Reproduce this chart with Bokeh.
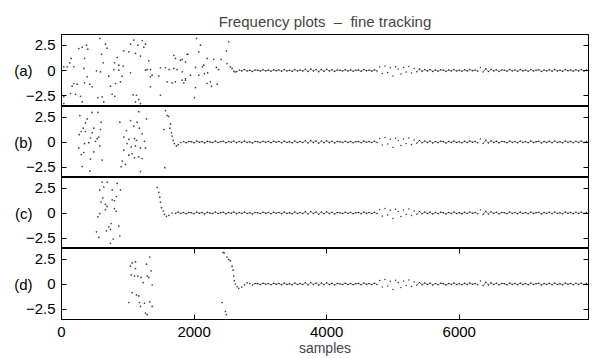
from bokeh.plotting import figure
from bokeh.layouts import column
from bokeh.models import FixedTicker, LinearAxis, Range1d
from bokeh.embed import file_html
from bokeh.resources import INLINE

TITLE = "Frequency plots\u00a0\u00a0\u2013\u00a0\u00a0fine tracking"
PANEL_LABELS = ["(a)", "(b)", "(c)", "(d)"]
Y_TICKS = [-2.5, 0, 2.5]
Y_TICK_LABELS = {-2.5: "\u22122.5", 0: "0", 2.5: "2.5"}
X_TICKS = [0, 2000, 4000, 6000]
X_LABEL = "samples"

# early (acquisition) samples
a_x = [35, 35, 35, 86, 126, 136, 146, 161, 186, 186, 211, 236, 262, 287, 312, 312, 337, 347, 347, 377,
       387, 397, 428, 463, 528, 548, 578, 588, 603, 613, 628, 638, 663, 688, 713, 739, 764, 789, 799, 804,
       814, 840, 865, 865, 890, 915, 930, 940, 1016, 1041, 1041, 1081, 1091, 1116, 1116, 1131, 1151, 1166, 1191, 1191,
       1217, 1242, 1267, 1267, 1292, 1317, 1342, 1342, 1342, 1367, 1468, 1493, 1493, 1568, 1593, 1623, 1669, 1694, 1694, 1719,
       1719, 1744, 1795, 1820, 1820, 1820, 1845, 1870, 1870, 1870, 1895, 1905, 1945, 2006, 2021, 2021, 2036, 2071, 2071, 2096,
       2126, 2146, 2156, 2197, 2197, 2204, 2247, 2262, 2297, 2337, 2348, 2372, 2408, 2488, 2498, 2523, 2548, 2573, 2598, 2620,
       2645]
a_y = [0.36, -2.6, -3.26, 0.36, 0.76, -2.27, 1.19, -1.55, 0.36, -1.28, -2.34, -1.35, 2.17, -2.54, 2.3, -3.1, 0.2, 1.19, -1.22, 2.5,
       -0.62, 2.1, -1.35, -1.61, -0.03, -2.67, 3.16, -0.13, 1.6, -2.6, 0.76, -3.1, 2.6, 2.2, -0.56, -1.55, -2.34, 0.09, 0.76, -2.54,
       -1.28, 1.28, 0.53, 0.03, -1.12, -0.56, 0.43, 1.94, 1.84, 2.6, -0.23, -2.4, 3.0, 1.68, -3.1, -2.44, 2.5, -2.86, 1.42, -3.26,
       2.96, 2.3, 2.6, 0.03, 0.09, 0.95, 0.09, -0.62, -1.61, -0.46, -0.55, 0.27, -2.44, 0.27, -1.12, 0.09, -1.22, 1.5, 0.2, 1.19,
       -1.12, 0.09, 1.02, -0.13, -0.95, 1.1, -1.22, -0.95, 0.86, -0.79, 1.6, 1.6, -0.46, -2.67, 0.3, -1.68, 3.16, 1.84, -0.46, 2.5,
       0.36, 0.53, -0.3, 1.19, -1.28, -0.23, -1.12, -1.55, 1.1, 0.3, -1.35, 0.09, 1.1, 1.94, 0.69, 2.83, 0.36, 0.2, -0.05, -0.14,
       -0.1]

b_x = [261, 266, 277, 297, 297, 312, 327, 337, 347, 362, 362, 387, 412, 428, 437, 437, 462, 463, 488, 488,
       513, 538, 548, 563, 578, 588, 598, 613,
       880, 900, 915, 940, 940, 965, 980, 990, 1016, 1016, 1041, 1051, 1066, 1091, 1101, 1101, 1116, 1131, 1141, 1166,
       1166, 1176, 1191, 1191, 1217, 1217, 1252, 1267, 1282,
       1543, 1558, 1568, 1594, 1619, 1634, 1644, 1659, 1669, 1684, 1704, 1734, 1760, 1800]
b_y = [-0.59, 0.73, 2.64, 1.05, -1.25, -2.46, 1.38, -1.05, -0.16, 1.91, 1.05, 2.31, -0.07, -2.89, 0.4, -1.71, 0.92, 2.96, 1.38, -0.99,
       0.07, 0.33, 2.96, 0.49, -0.39, 1.25, 1.98, -1.81,
       1.98, -2.47, -1.91, 0.49, -0.82, -2.24, 1.15, -0.16, 0.26, -1.32, 2.14, -0.49, -1.15, 1.58, 0.33, -1.58, -0.39, 0.17, 1.98, 3.03,
       -1.48, 1.38, -0.59, -2.96, 0.82, -1.65, 0.07, -0.59, 2.31,
       1.25, -2.57, 3.13, 2.64, 2.57, 1.38, 1.81, 0.92, 0.59, 0.17, -0.16, -0.39, -0.26, -0.05]

c_x = [528, 548, 563, 578, 578, 598, 614, 623, 638, 663, 663, 678, 688, 689, 714, 739, 739, 749, 765, 765,
       779, 799, 799, 824, 829, 840, 864, 880, 890,
       1443, 1468, 1483, 1493, 1508, 1533, 1553, 1583, 1619, 1669]
c_y = [-1.88, -0.39, -2.44, 2.31, -0.07, 1.09, 3.09, 1.51, 2.6, 0.86, 0.33, -1.78, 0.66, 3.09, -1.38, -1.65, -3.03, -1.05, 2.31, 1.32,
       -2.6, 1.25, 0.43, 0.17, 1.65, 2.96, -1.32, -2.3, 2.31,
       2.57, 2.07, 1.58, 1.09, 0.53, 0.2, -0.13, -0.33, -0.23, 0.0]

d_x = [1016, 1041, 1051, 1066, 1066, 1101, 1116, 1116, 1131, 1151, 1166, 1176, 1191, 1202, 1232, 1252, 1267, 1282, 1292, 1292,
       1317, 1332, 1332, 1352, 1368, 1368,
       2423, 2438, 2458, 2473, 2488, 2498, 2523, 2548, 2573, 2588, 2598, 2608, 2624, 2649, 2674, 2720, 2760, 2800, 2840]
d_y = [-1.85, 1.78, 0.89, 2.11, -0.86, 0.79, 2.21, 1.55, -1.09, 0.79, -1.19, -1.85, -2.24, 0.66, 0.13, -1.91, -2.9, 1.98, 0.79, -3.07,
       0.66, 2.7, -1.78, 1.32, -0.1, -2.24,
       -1.85, 3.16, 3.1, -2.73, -3.07, 2.7, 2.44, 2.31, 1.78, 1.38, 0.79, 0.33, 0.0, -0.26, -0.43, -0.3, -0.08, 0.12, 0.05]

# converged (tracking) part, common to all panels: one value every 40 samples from 1680
TAIL_START = 1680
TAIL_STEP = 40
tail_y = [0.08, -0.06, 0.1, -0.04, 0.05, -0.08, 0.06, 0.02, -0.07, 0.09,
          -0.03, 0.05, -0.09, 0.07, 0.0, -0.05, 0.1, -0.06, 0.03, 0.08,
          -0.08, 0.04, -0.02, 0.09, -0.07, 0.05, -0.04, 0.1, -0.05, 0.02,
          -0.09, 0.06, 0.03, -0.06, 0.08, -0.03, 0.05, -0.08, 0.07, -0.02,
          0.06, -0.07, 0.09, -0.04, 0.02, -0.08, 0.1, -0.05, 0.04, -0.06,
          0.12, -0.1, 0.14, -0.06, 0.11, -0.12, 0.09, -0.08, 0.13, -0.05,
          0.07, -0.09, 0.05, 0.02, -0.06, 0.08, -0.04, 0.06, -0.07, 0.03,
          0.05, -0.08, 0.09, -0.03, 0.04, -0.06, 0.07, -0.05, 0.35, -0.3,
          0.45, -0.2, 0.28, -0.55, 0.38, 0.15, -0.35, 0.3, -0.15, 0.4,
          -0.25, 0.2, -0.12, 0.15, -0.08, 0.1, -0.06, 0.09, -0.1, 0.05,
          -0.07, 0.08, 0.02, -0.09, 0.06, -0.04, 0.1, -0.06, 0.03, -0.08,
          0.07, -0.05, 0.09, -0.03, 0.05, -0.07, 0.3, -0.15, 0.18, -0.1,
          0.12, -0.06, 0.08, -0.09, 0.05, 0.03, -0.07, 0.1, -0.04, 0.06,
          -0.08, 0.09, -0.05, 0.04, -0.07, 0.1, -0.06, 0.03, 0.07, -0.09,
          0.05, -0.04, 0.08, -0.07, 0.1, -0.05, 0.02, -0.08, 0.09, -0.03,
          0.06, -0.08, 0.07, -0.05, 0.09, -0.06, 0.04]
tail_x = [TAIL_START + TAIL_STEP * i for i in range(len(tail_y))]
TAIL_FROM = [2680, 1840, 1720, 2880]

FONT = "Liberation Sans"
x_range = Range1d(0, 7950)


def tick_only_axis(ticks):
    return LinearAxis(ticker=FixedTicker(ticks=ticks), major_tick_in=5, major_tick_out=0,
                      minor_tick_line_color=None,
                      major_label_overrides={t: "" for t in ticks},
                      major_label_text_font_size="1px",
                      major_label_standoff=0, axis_line_color="black")


def make_panel(xs, ys, tail_from, label, height, top, bottom, last):
    p = figure(width=593, height=height, x_range=x_range, y_range=Range1d(-3.55, 3.55),
               output_backend="svg", toolbar_location=None,
               x_axis_location="below" if last else None,
               min_border_left=61, min_border_right=5,
               min_border_top=top, min_border_bottom=bottom)
    p.grid.visible = False
    p.outline_line_color = "black"
    p.outline_line_width = 1
    p.background_fill_color = "white"
    p.border_fill_color = "white"

    ya = p.yaxis[0]
    ya.ticker = FixedTicker(ticks=Y_TICKS)
    ya.major_label_overrides = Y_TICK_LABELS
    ya.major_tick_in = 5
    ya.major_tick_out = 0
    ya.minor_tick_line_color = None
    ya.major_label_standoff = 6
    ya.major_label_text_font = FONT
    ya.major_label_text_font_size = "15px"
    ya.major_label_text_color = "black"
    ya.axis_line_color = "black"

    # panel tag, e.g. "(a)", as a label-only axis outside the tick labels
    la = LinearAxis(ticker=FixedTicker(ticks=[0]), major_label_overrides={0: label},
                    major_tick_in=0, major_tick_out=0, minor_tick_line_color=None,
                    major_label_standoff=-10, axis_line_color=None,
                    major_label_text_font=FONT, major_label_text_font_size="15px",
                    major_label_text_color="black")
    p.add_layout(la, "left")

    p.add_layout(tick_only_axis(Y_TICKS), "right")

    if last:
        xa = p.xaxis[0]
        xa.ticker = FixedTicker(ticks=X_TICKS)
        xa.major_tick_in = 5
        xa.major_tick_out = 0
        xa.minor_tick_line_color = None
        xa.major_label_standoff = 7
        xa.major_label_text_font = FONT
        xa.major_label_text_font_size = "15px"
        xa.major_label_text_color = "black"
        xa.axis_label = X_LABEL
        xa.axis_label_text_font = FONT
        xa.axis_label_text_font_size = "14px"
        xa.axis_label_text_font_style = "normal"
        xa.axis_label_standoff = 0
        p.add_layout(tick_only_axis(X_TICKS), "above")

    tx = [x for x in tail_x if x >= tail_from]
    ty = [y for x, y in zip(tail_x, tail_y) if x >= tail_from]
    ty_line = [y if abs(y) < 0.2 else float("nan") for y in ty]
    p.line(tx, ty_line, line_color="#555555", line_width=0.7)
    p.scatter(tx, ty, size=1.5, fill_color="black", line_color=None, fill_alpha=0.8)
    p.scatter(xs, ys, size=1.7, fill_color="black", line_color=None, fill_alpha=0.75)
    return p


pa = make_panel(a_x, a_y, TAIL_FROM[0], PANEL_LABELS[0], 106, 34, 0, False)
pa.title.text = TITLE
pa.title.align = "center"
pa.title.text_font = FONT
pa.title.text_font_size = "15px"
pa.title.text_font_style = "normal"
pb = make_panel(b_x, b_y, TAIL_FROM[1], PANEL_LABELS[1], 71, 0, 0, False)
pc = make_panel(c_x, c_y, TAIL_FROM[2], PANEL_LABELS[2], 71, 0, 0, False)
pd = make_panel(d_x, d_y, TAIL_FROM[3], PANEL_LABELS[3], 110, 0, 38, True)

layout = column(pa, pb, pc, pd, spacing=0)
open("out.html", "w").write(file_html(layout, INLINE))
